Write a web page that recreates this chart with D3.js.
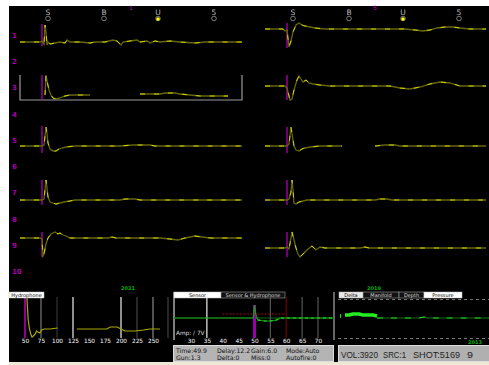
<!DOCTYPE html>
<html>
<head>
<meta charset="utf-8">
<script src="https://cdn.jsdelivr.net/npm/d3@7"></script>
<style>
  body { margin: 0; background: #fff; }
  svg { display: block; font-family: "DejaVu Sans", sans-serif; }
</style>
</head>
<body>
<div id="chart"></div>
<script>
// ---- data ----
const channelLabels = ["1","2","3","4","5","6","7","8","9","10"];
const markerTimes = [28, 84, 138, 194];
const markerLabels = ["S", "B", "U", "5"];
const shotTime = 22;

// traces: [time ms, amplitude], null amplitude = no data
const leftTrace1 = [[0,0],[20,0],[22,1],[24,-2],[25,17],[26,10],[27,-3],[28,0],[30,-2],[35,-1],[40,0],[45,-1],[47,2],[50,0],[60,0],[70,-1],[75,0],[85,0],[93,2],[97,1],[101,-3],[103,0],[110,1],[117,2],[120,0],[127,1],[130,-1],[135,1],[140,0],[150,1],[160,0],[175,-1],[185,0],[200,0],[222,0]];
const leftTrace3 = [[25,0],[26,20],[27,14],[29,5],[31,0],[33,-3],[36,-4],[40,-3],[45,-1],[50,0],[70,0],[71,null],[120,1],[140,1],[145,2],[155,2],[160,1],[170,0],[180,-1],[208,-1]];
const leftTrace5 = [[0,0],[22,0],[24,1],[26,19],[27,12],[28,3],[30,-3],[33,-5],[36,-5],[39,-3],[42,-2],[46,-1],[55,0],[100,0],[113,1],[130,1],[135,0],[222,0]];
const leftTrace7 = [[0,0],[22,0],[24,1],[26,20],[27,12],[28,3],[30,-2],[33,-3],[36,-4],[40,-3],[44,-2],[50,-1],[55,0],[100,0],[105,1],[115,1],[120,0],[222,0]];
const leftTrace9 = [[0,0],[20,0],[22,-1],[23,-18],[24,-16],[26,-6],[28,0],[31,4],[35,6],[38,4],[40,5],[43,3],[46,2],[50,0],[88,0],[92,1],[96,0],[140,0],[150,-1],[158,-2],[165,0],[170,1],[175,2],[182,1],[190,0],[222,0]];

const rightTrace1 = [[0,0],[18,0],[20,-2],[22,-1],[24,-18],[26,-12],[28,-3],[31,4],[34,6],[37,4],[40,3],[45,2],[50,1],[60,0],[140,0],[150,-1],[158,-2],[165,-1],[172,1],[180,2],[188,2],[195,1],[205,0],[221,0]];
const rightTrace2 = [[0,0],[20,0],[22,-2],[25,-14],[27,-13],[29,-4],[32,6],[34,10],[36,7],[38,4],[41,6],[44,3],[48,2],[55,1],[65,0],[125,0],[135,-2],[145,-3],[155,-1],[165,2],[175,4],[185,3],[195,0],[221,0]];
const rightTrace3 = [[0,0],[22,0],[24,2],[26,19],[27,12],[29,0],[31,-4],[34,-5],[37,-3],[40,-2],[45,-1],[55,0],[77,0],[78,null],[110,0],[120,1],[130,1],[135,0],[221,0]];
const rightTrace4 = [[0,0],[22,0],[24,1],[26,8],[27,20],[28,10],[29,-3],[31,-4],[34,-2],[38,-1],[42,0],[110,0],[115,1],[122,1],[127,0],[221,0]];
const rightTrace5 = [[0,0],[20,0],[22,1],[24,-1],[26,10],[27,16],[29,8],[31,0],[33,-6],[35,-9],[37,-7],[40,-4],[43,-1],[47,2],[51,-2],[55,1],[60,0],[95,0],[100,1],[104,0],[221,0]];

// bottom panels
const hydroTicks = [50, 75, 100, 125, 150, 175, 200, 225, 250];
const hydroTrace = [[53,32],[54,20],[55,9],[57,0],[59,-5],[61,-8],[63,-7],[66,-5],[68,-2],[70,-3],[73,-4],[76,-1],[80,0],[89,0],[101,1],[102,null],[131,0],[178,0],[183,2],[194,2],[200,0],[206,-2],[222,-2],[235,-1],[245,0],[261,0]];
const sensorTicks = [30, 35, 40, 45, 50, 55, 60, 65, 70];
const sensorTrace = [[24.6,0],[49.6,0],[50,13],[50.4,4],[51,-2],[53,-3],[55,-3],[57,-2],[58,0],[75,0]];
const pressureHead = [[1,2],[2,2],[3,null],[6,3],[10,3],[14,4],[20,4],[24,3],[30,3],[34,3],[38,2]];
const pressureTail = [[38,0],[80,0],[85,1],[88,0],[150,0]];
const infoRow1 = ["Time:49.9", "Delay:12.2", "Gain:6.0", "Mode:Auto"];
const infoRow2 = ["Gun:1.3", "Delta:0", "Miss:0", "Autofire:0"];
const statusItems = ["VOL:3920", "SRC:1", "SHOT:5169", "9"];
const hydroTabs = ["Hydrophone"];
const sensorTabs = ["Sensor", "Sensor & Hydrophone"];
const gaugeTabs = ["Delta", "Manifold", "Depth", "Pressure"];

// ---- drawing ----
const W = 489, H = 365;
const svg = d3.select("#chart").append("svg").attr("width", W).attr("height", H);

svg.append("rect").attr("width", W).attr("height", H).attr("fill", "#fff");
svg.append("rect").attr("x", 9).attr("y", 6).attr("width", W - 9).attr("height", 356).attr("fill", "#000");
svg.append("rect").attr("x", 9).attr("y", 362).attr("width", W - 9).attr("height", 3).attr("fill", "#ece9d8");

const magenta = "#c000c0";
const chanY = d3.scalePoint().domain(channelLabels).range([35, 271]);

svg.append("g").selectAll("text").data(channelLabels).join("text")
  .attr("x", 12).attr("y", d => chanY(d) + 3)
  .attr("fill", "#a800a8").attr("font-size", 7).attr("font-weight", "bold")
  .text(d => d);

const tLeft = d3.scaleLinear().domain([0, 222]).range([20, 242]);
const tRight = d3.scaleLinear().domain([0, 221]).range([265, 486]);
const amp = d3.scaleLinear().domain([-30, 30]).range([30, -30]);

// marker heads
[[tLeft, 131, "1"], [tRight, 375, "5"]].forEach(([xs, mx, lab]) => {
  const g = svg.append("g");
  g.selectAll("text.m").data(markerLabels).join("text")
    .attr("x", (d, i) => xs(markerTimes[i])).attr("y", 15)
    .attr("text-anchor", "middle").attr("fill", "#bbb").attr("font-size", 7.5)
    .text(d => d);
  g.selectAll("circle").data(markerLabels).join("circle")
    .attr("cx", (d, i) => xs(markerTimes[i])).attr("cy", 18.5).attr("r", 2.3)
    .attr("fill", "none").attr("stroke", "#999").attr("stroke-width", 0.8);
  g.append("circle").attr("cx", xs(markerTimes[2])).attr("cy", 19).attr("r", 1.8).attr("fill", "#ffff00");
  g.append("text").attr("x", mx).attr("y", 10).attr("text-anchor", "middle")
    .attr("fill", magenta).attr("font-size", 6).text(lab);
});

const traces = [
  { xs: tLeft, base: 42, data: leftTrace1, top: 24, bot: 46 },
  { xs: tLeft, base: 95, data: leftTrace3, top: 75, bot: 100 },
  { xs: tLeft, base: 146, data: leftTrace5, top: 126, bot: 153 },
  { xs: tLeft, base: 200, data: leftTrace7, top: 180, bot: 205 },
  { xs: tLeft, base: 238, data: leftTrace9, top: 232, bot: 257 },
  { xs: tRight, base: 29, data: rightTrace1, top: 23, bot: 48 },
  { xs: tRight, base: 86, data: rightTrace2, top: 75, bot: 100 },
  { xs: tRight, base: 146, data: rightTrace3, top: 127, bot: 153 },
  { xs: tRight, base: 200, data: rightTrace4, top: 180, bot: 205 },
  { xs: tRight, base: 248, data: rightTrace5, top: 232, bot: 257 }
];

// bracket around trace 3
svg.append("path")
  .attr("d", `M${tLeft(0)},75V100H${tLeft(222)}V75`)
  .attr("fill", "none").attr("stroke", "#9a9a9a").attr("stroke-width", 1.2);

traces.forEach(tr => {
  const line = d3.line()
    .defined(d => d[1] !== null)
    .x(d => tr.xs(d[0]))
    .y(d => tr.base + amp(d[1]));
  svg.append("line")
    .attr("x1", tr.xs(shotTime)).attr("x2", tr.xs(shotTime))
    .attr("y1", tr.top).attr("y2", tr.bot)
    .attr("stroke", magenta).attr("stroke-width", 1.2);
  svg.append("path").datum(tr.data).attr("d", line)
    .attr("fill", "none").attr("stroke", "#666608").attr("stroke-width", 1.3);
  svg.append("path").datum(tr.data).attr("d", line)
    .attr("fill", "none").attr("stroke", "#d2d200").attr("stroke-width", 1)
    .attr("stroke-dasharray", "5,9");
});

// ---- hydrophone panel ----
const hx = d3.scaleLinear().domain([50, 250]).range([25, 153]);
const hydroLineColor = { 50: magenta, 75: "#777", 100: "#333", 125: "#eee", 200: "#eee", 225: "#444", 250: "#888" };
svg.append("g").selectAll("line").data(hydroTicks.filter(t => hydroLineColor[t])).join("line")
  .attr("x1", d => hx(d)).attr("x2", d => hx(d)).attr("y1", 297).attr("y2", 338)
  .attr("stroke", d => hydroLineColor[d]).attr("stroke-width", d => d === 50 ? 1.5 : 1.2);
svg.append("line").attr("x1", 168).attr("x2", 168).attr("y1", 297).attr("y2", 338)
  .attr("stroke", "#333").attr("stroke-width", 1.5);

const hLine = d3.line().defined(d => d[1] !== null).x(d => hx(d[0])).y(d => 329 + amp(d[1]));
svg.append("path").datum(hydroTrace).attr("d", hLine)
  .attr("fill", "none").attr("stroke", "#a8a800").attr("stroke-width", 1.2);

const hAxis = svg.append("g").attr("transform", "translate(0,338)")
  .call(d3.axisBottom(hx).tickValues(hydroTicks).tickSize(0).tickPadding(1));
hAxis.select(".domain").remove();
hAxis.selectAll("text").attr("fill", "#fff").attr("font-size", 5.8).attr("font-family", "DejaVu Sans");

function tabs(labels, x0, widths, styles) {
  let x = x0;
  labels.forEach((lab, i) => {
    const s = styles[i];
    svg.append("rect").attr("x", x).attr("y", 292).attr("width", widths[i]).attr("height", 6)
      .attr("fill", s.bg).attr("stroke", "#bbb").attr("stroke-width", 0.5);
    svg.append("text").attr("x", x + widths[i] / 2).attr("y", 297)
      .attr("text-anchor", "middle").attr("font-size", 5).attr("fill", s.fg).text(lab);
    x += widths[i];
  });
}
tabs(hydroTabs, 9, [35], [{ bg: "#fff", fg: "#000" }]);
svg.append("text").attr("x", 128).attr("y", 290).attr("text-anchor", "middle")
  .attr("fill", "#00b000").attr("font-size", 5).attr("font-weight", "bold").text("2021");

// ---- sensor panel ----
const sx = d3.scaleLinear().domain([30, 70]).range([191, 318]);
svg.append("line").attr("x1", 174).attr("x2", 174).attr("y1", 292).attr("y2", 340).attr("stroke", "#aaa").attr("stroke-width", 1.5);
svg.append("line").attr("x1", 334).attr("x2", 334).attr("y1", 292).attr("y2", 340).attr("stroke", "#888").attr("stroke-width", 1.5);
tabs(sensorTabs, 174, [47, 64], [{ bg: "#fff", fg: "#000" }, { bg: "#111", fg: "#ddd" }]);

svg.append("line").attr("x1", 174).attr("x2", 334).attr("y1", 318).attr("y2", 318)
  .attr("stroke", "#0a6a0a").attr("stroke-width", 1.2);
const sensorLineColor = { 35: "#eee", 50: "#9a00b0", 55: "#555", 60: "#700000", 65: "#555", 70: "#555" };
svg.append("g").selectAll("line").data(sensorTicks.filter(t => sensorLineColor[t])).join("line")
  .attr("x1", d => sx(d)).attr("x2", d => sx(d))
  .attr("y1", d => d === 50 ? 305 : 297).attr("y2", 338)
  .attr("stroke", d => sensorLineColor[d]).attr("stroke-width", d => d === 50 ? 3 : 1.2);
svg.append("line").attr("x1", sx(40)).attr("x2", sx(60)).attr("y1", 314).attr("y2", 314)
  .attr("stroke", "#d00000").attr("stroke-width", 1).attr("stroke-dasharray", "1.5,2");
const sLine = d3.line().x(d => sx(d[0])).y(d => 318 + amp(d[1]));
svg.append("path").datum(sensorTrace).attr("d", sLine)
  .attr("fill", "none").attr("stroke", "#1c9a1c").attr("stroke-width", 1.2);
svg.append("path").datum(sensorTrace.filter(d => d[0] >= 51)).attr("d", sLine)
  .attr("fill", "none").attr("stroke", "#20e020").attr("stroke-width", 1.2).attr("stroke-dasharray", "3,3");
svg.append("text").attr("x", 176).attr("y", 335).attr("fill", "#ddd").attr("font-size", 5.8).text("Amp: / 7V");

const sAxis = svg.append("g").attr("transform", "translate(0,338)")
  .call(d3.axisBottom(sx).tickValues(sensorTicks).tickSize(0).tickPadding(1));
sAxis.select(".domain").remove();
sAxis.selectAll("text").attr("fill", "#fff").attr("font-size", 5.8).attr("font-family", "DejaVu Sans");

svg.append("rect").attr("x", 173.5).attr("y", 345.5).attr("width", 160).attr("height", 16)
  .attr("fill", "#b4b4b4").attr("stroke", "#ddd").attr("stroke-width", 1);
const infoX = [176, 217, 251, 286];
[infoRow1, infoRow2].forEach((row, r) => {
  svg.append("g").selectAll("text").data(row).join("text")
    .attr("x", (d, i) => infoX[i]).attr("y", 352.5 + r * 7.3)
    .attr("fill", "#111").attr("font-size", 6.2).text(d => d);
});

// ---- gauge panel ----
const px = d3.scaleLinear().domain([0, 150]).range([339, 489]);
tabs(gaugeTabs, 339, [24, 36, 25, 38], [
  { bg: "#e8e8e8", fg: "#000" }, { bg: "#111", fg: "#ddd" },
  { bg: "#111", fg: "#ddd" }, { bg: "#fff", fg: "#000" }]);
svg.append("text").attr("x", 374).attr("y", 290).attr("text-anchor", "middle")
  .attr("fill", "#00b000").attr("font-size", 5).attr("font-weight", "bold").text("2019");
[299.5, 338.5].forEach(y => svg.append("line").attr("x1", 338).attr("x2", 489)
  .attr("y1", y).attr("y2", y).attr("stroke", "#777").attr("stroke-dasharray", "3,3"));
const pLine = d3.line().defined(d => d[1] !== null).x(d => px(d[0])).y(d => 318 + amp(d[1]));
svg.append("path").datum(pressureTail).attr("d", pLine)
  .attr("fill", "none").attr("stroke", "#0c6e0c").attr("stroke-width", 1.2);
svg.append("path").datum(pressureTail).attr("d", pLine)
  .attr("fill", "none").attr("stroke", "#20d820").attr("stroke-width", 1.2).attr("stroke-dasharray", "6,8");
svg.append("path").datum(pressureHead).attr("d", pLine)
  .attr("fill", "none").attr("stroke", "#22ee22").attr("stroke-width", 3.5);
svg.append("text").attr("x", 475).attr("y", 344).attr("text-anchor", "middle")
  .attr("fill", "#00b000").attr("font-size", 5).attr("font-weight", "bold").text("2013");

svg.append("rect").attr("x", 338.5).attr("y", 345.5).attr("width", 151).attr("height", 16)
  .attr("fill", "#b0b0b0").attr("stroke", "#ddd").attr("stroke-width", 1);
const statusX = [341, 383, 413, 467];
const statusW = [37, 23, 47, 6];
svg.append("g").selectAll("text").data(statusItems).join("text")
  .attr("x", (d, i) => statusX[i]).attr("y", 358)
  .attr("fill", "#222").attr("font-size", 9.5).attr("font-family", "Liberation Sans, Arial, sans-serif")
  .attr("textLength", (d, i) => statusW[i]).attr("lengthAdjust", "spacingAndGlyphs")
  .text(d => d);
</script>
</body>
</html>
